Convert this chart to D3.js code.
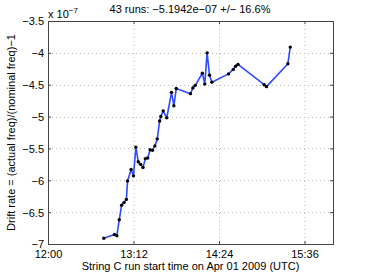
<!DOCTYPE html>
<html><head><meta charset="utf-8">
<script src="https://cdn.jsdelivr.net/npm/d3@7"></script>
<style>body{margin:0;background:#fff}svg{display:block}text{font-family:"Liberation Sans",Arial,sans-serif;fill:#000}</style>
</head><body>
<script>
const runTimes = ["12:47","12:56","12:58","13:00","13:02","13:04","13:06","13:07","13:10","13:12",
"13:14","13:16","13:18","13:20","13:22","13:24","13:26","13:28","13:30","13:32",
"13:34","13:35","13:37","13:40","13:44","13:46","13:48","14:00","14:02","14:04",
"14:10","14:12","14:14","14:16","14:18","14:32","14:36","14:38","14:40","15:02",
"15:04","15:22","15:24"];
const driftRates = [-6.91,-6.85,-6.87,-6.62,-6.39,-6.35,-6.30,-6.01,-5.83,-5.93,
-5.48,-5.71,-5.75,-5.80,-5.66,-5.65,-5.52,-5.53,-5.46,-5.35,
-5.07,-5.00,-4.91,-5.02,-4.62,-4.83,-4.56,-4.64,-4.55,-4.51,
-4.32,-4.49,-4.00,-4.35,-4.46,-4.33,-4.26,-4.21,-4.18,-4.50,
-4.53,-4.17,-3.91];
const xTickLabels = ["12:00","13:12","14:24","15:36"];
const yTickValues = [-7,-6.5,-6,-5.5,-5,-4.5,-4,-3.5];
const titleText = "43 runs: \u22125.1942e\u221207 +/\u2212 16.6%";
const xLabelText = "String C run start time on Apr 01 2009 (UTC)";
const yLabelText = "Drift rate = (actual freq)/(nominal freq)\u22121";

const W=368,H=277,L=48,R=333,T=21,B=244;
const toMin = s => { const [h,m]=s.split(":").map(Number); return h*60+m; };
const x = d3.scaleLinear().domain([12*60,16*60]).range([L,R]);
const y = d3.scaleLinear().domain([-7,-3.5]).range([B,T]);
const fmtY = v => (v<0?"\u2212":"")+Math.abs(v);

const svg = d3.select("body").append("svg").attr("width",W).attr("height",H);
svg.append("rect").attr("width",W).attr("height",H).attr("fill","#fff");

const xt = xTickLabels.map(toMin);
// grid
svg.append("g").selectAll("line").data(xt.slice(1)).join("line")
  .attr("x1",d=>x(d)+0.5).attr("x2",d=>x(d)+0.5).attr("y1",T).attr("y2",B)
  .attr("stroke","#bbb").attr("stroke-dasharray","1,3");
svg.append("g").selectAll("line").data(yTickValues.slice(1,-1)).join("line")
  .attr("y1",d=>Math.round(y(d))+0.5).attr("y2",d=>Math.round(y(d))+0.5).attr("x1",L).attr("x2",R)
  .attr("stroke","#bbb").attr("stroke-dasharray","1,3");

// axes via d3 axes (ticks inward)
const gx = svg.append("g").attr("transform",`translate(0,${B})`)
  .call(d3.axisBottom(x).tickValues(xt).tickFormat((d,i)=>xTickLabels[i]).tickSizeInner(-3).tickSizeOuter(0).tickPadding(6));
const gy = svg.append("g").attr("transform",`translate(${L},0)`)
  .call(d3.axisLeft(y).tickValues(yTickValues).tickFormat(fmtY).tickSizeInner(-3).tickSizeOuter(0).tickPadding(4));
svg.append("g").attr("transform",`translate(${R},0)`)
  .call(d3.axisRight(y).tickValues(yTickValues).tickFormat("").tickSizeInner(-3).tickSizeOuter(0));
svg.append("g").attr("transform",`translate(0,${T})`)
  .call(d3.axisTop(x).tickValues(xt).tickFormat("").tickSizeInner(-3).tickSizeOuter(0));
svg.selectAll(".domain").remove();
svg.selectAll(".tick line").attr("stroke","#444");
svg.selectAll(".tick text").style("font-size","11px").style("font-family","'Liberation Sans',Arial,sans-serif").attr("fill","#000");
gy.selectAll(".tick text").attr("dy","0.35em");
svg.append("rect").attr("x",L+0.5).attr("y",T+0.5).attr("width",R-L).attr("height",B-T)
  .attr("fill","none").attr("stroke","#444").attr("stroke-width",1);

// data
const data = runTimes.map((t,i)=>({t:toMin(t),v:driftRates[i]}));
svg.append("path").datum(data)
  .attr("d",d3.line().x(d=>x(d.t)).y(d=>y(d.v)))
  .attr("fill","none").attr("stroke","#2f4bff").attr("stroke-width",1.6).attr("stroke-linejoin","round");
svg.append("g").selectAll("circle").data(data).join("circle")
  .attr("cx",d=>x(d.t)).attr("cy",d=>y(d.v)).attr("r",1.7).attr("fill","#000");

// texts
svg.append("text").attr("x",190).attr("y",13).attr("text-anchor","middle").style("font-size","11px").text(titleText);
const ex = svg.append("text").attr("x",48).attr("y",18).style("font-size","11px");
ex.append("tspan").text("x 10");
ex.append("tspan").attr("dy",-5).style("font-size","8px").text("\u22127");
svg.append("text").attr("x",(L+R)/2).attr("y",270).attr("text-anchor","middle").style("font-size","11px").text(xLabelText);
svg.append("text").attr("transform",`translate(15,${(T+B)/2}) rotate(-90)`).attr("text-anchor","middle").style("font-size","11px").text(yLabelText);
</script>
</body></html>
